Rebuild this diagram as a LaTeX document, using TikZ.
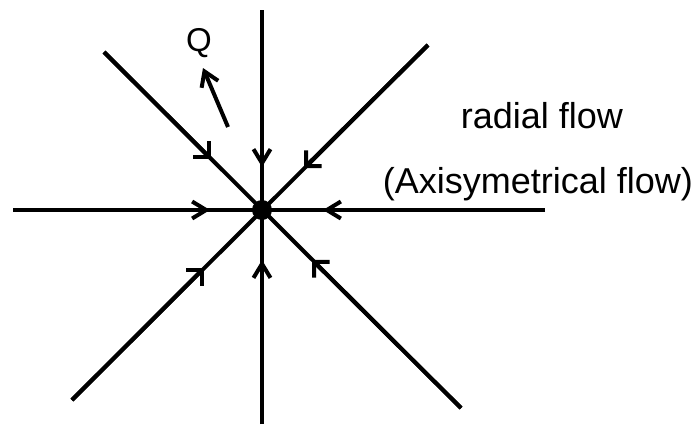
\documentclass[tikz,border=0pt]{standalone}
\usepackage{fontspec}
\setmainfont{Liberation Sans}
\usetikzlibrary{arrows.meta}
\begin{document}
\begin{tikzpicture}[x=1pt,y=-1pt,
  ray/.style={line width=4pt},
  axarrow/.style={ray,-{Straight Barb[length=14pt,width=17pt]}},
  diagarrow/.style={ray,-{Straight Barb[length=11pt,width=22pt]}},
  qarrow/.style={line width=4pt,-{Straight Barb[length=14pt,width=18pt]}},
  lbl/.style={font=\fontsize{36}{40}\selectfont,anchor=base,inner sep=0pt}]
\useasboundingbox (0,0) rectangle (697,424);
% end points
\coordinate (T) at (262,10);
\coordinate (B) at (262,424);
\coordinate (L) at (13,210);
\coordinate (R) at (545,210);
\coordinate (UL) at (104,52);
\coordinate (UR) at (428,45);
\coordinate (LL) at (72,400);
\coordinate (LR) at (461,408);
% arrow tips
\coordinate (tT) at (262,167);
\coordinate (tB) at (262,260);
\coordinate (tL) at (210,210);
\coordinate (tR) at (323,210);
\coordinate (tUL) at (211,159);
\coordinate (tUR) at (304,168);
\coordinate (tLL) at (204,268);
\coordinate (tLR) at (312,260);
\node[circle,fill=black,inner sep=0pt,minimum size=20pt] (O) at (262,210) {};
% lines
\draw[ray] (T) -- (B);
\draw[ray] (L) -- (R);
\draw[ray] (UL) -- (LR);
\draw[ray] (UR) -- (LL);
% arrowheads
\draw[axarrow] (T) -- (tT);
\draw[axarrow] (B) -- (tB);
\draw[axarrow] (L) -- (tL);
\draw[axarrow] (R) -- (tR);
\draw[diagarrow] (UL) -- (tUL);
\draw[diagarrow] (UR) -- (tUR);
\draw[diagarrow] (LL) -- (tLL);
\draw[diagarrow] (LR) -- (tLR);
% Q
\coordinate (qtail) at (228,127);
\coordinate (qtip) at (203,68);
\draw[qarrow] (qtail) -- (qtip);
\node[font=\fontsize{33}{36}\selectfont,anchor=base,inner sep=0pt] (Q) at (199,51) {Q};
% labels
\node[lbl] (rf) at (542,128) {radial flow};
\node[lbl] (af) at (538,193) {(Axisymetrical flow)};
\end{tikzpicture}
\end{document}
